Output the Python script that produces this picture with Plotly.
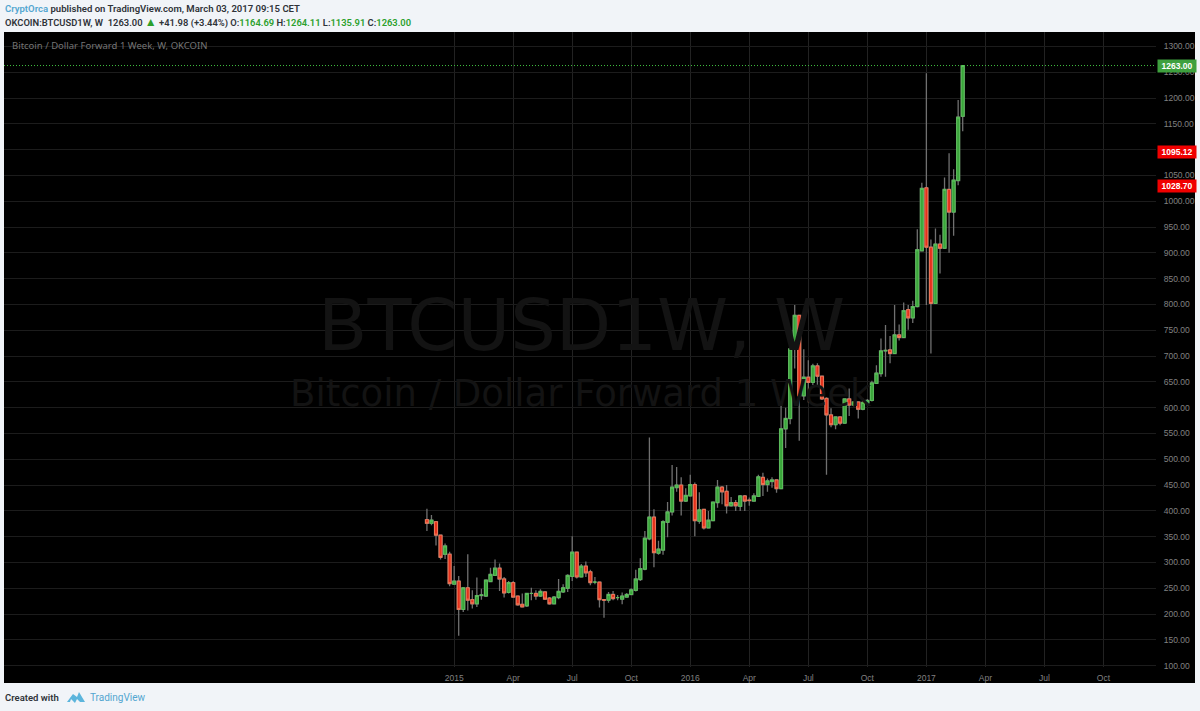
import pandas as pd
import plotly.graph_objects as go

W, H = 1200, 711

dates = pd.date_range("2014-11-24", periods=119, freq="W-MON")

opens = [383, 376, 379, 353, 316, 316, 258, 264, 209, 251,
         228, 220, 236, 235, 263, 275, 289, 268, 242, 261,
         235, 219, 216, 240, 240, 235, 243, 231, 220, 232,
         243, 250, 273, 320, 272, 293, 282, 262, 262, 228,
         227, 238, 232, 229, 233, 238, 246, 267, 287, 346,
         388, 318, 324, 378, 398, 445, 450, 419, 429, 451,
         380, 403, 367, 381, 416, 446, 438, 410, 416, 409,
         429, 421, 419, 428, 465, 451, 457, 460, 443, 559,
         579, 714, 779, 623, 659, 649, 681, 661, 618, 586,
         567, 582, 570, 617, 605, 611, 597, 609, 614, 647,
         666, 710, 712, 705, 741, 736, 790, 774, 796, 904,
         1026, 911, 802, 917, 909, 1023, 979, 1040, 1164.69]
highs = [404, 392, 380, 353, 337, 321, 293, 274, 251, 316,
         246, 271, 249, 266, 290, 306, 298, 272, 264, 264,
         236, 240, 241, 251, 246, 248, 244, 233, 235, 268,
         258, 277, 351, 321, 297, 302, 286, 272, 263, 229,
         243, 245, 237, 242, 241, 250, 286, 308, 361, 542,
         403, 342, 382, 417, 489, 485, 465, 444, 470, 455,
         436, 404, 400, 418, 460, 448, 450, 427, 421, 431,
         431, 426, 434, 470, 474, 463, 465, 461, 610, 600,
         730, 799, 780, 713, 692, 685, 686, 662, 620, 599,
         583, 583, 618, 637, 612, 612, 618, 617, 652, 682,
         734, 760, 739, 799, 761, 804, 799, 807, 946, 1036,
         1248, 926, 947, 935, 1046, 1093, 1062, 1196, 1264.11]
lows = [361, 372, 333, 306, 307, 254, 257, 158, 204, 207,
        211, 214, 228, 233, 262, 275, 245, 232, 240, 232,
        216, 213, 214, 227, 228, 233, 228, 218, 219, 229,
        241, 243, 264, 269, 271, 272, 256, 258, 213, 193,
        222, 227, 227, 219, 232, 237, 244, 264, 285, 343,
        291, 315, 315, 349, 391, 437, 391, 417, 428, 351,
        375, 364, 366, 380, 406, 413, 395, 408, 400, 400,
        400, 410, 418, 427, 429, 437, 445, 435, 442, 522,
        568, 676, 536, 615, 610, 644, 643, 615, 470, 562,
        558, 566, 569, 584, 603, 579, 595, 607, 612, 646,
        660, 660, 686, 704, 730, 735, 751, 764, 794, 903,
        799, 705, 801, 860, 908, 900, 933, 1031, 1135.91]
closes = [376, 382, 353, 310, 332, 259, 264, 209, 251, 227,
          220, 236, 237, 266, 277, 289, 268, 241, 261, 233,
          218, 214, 240, 240, 235, 244, 229, 220, 233, 244,
          251, 275, 320, 272, 293, 280, 261, 262, 228, 227,
          238, 230, 232, 235, 238, 247, 268, 288, 347, 388,
          319, 326, 379, 398, 446, 450, 419, 430, 451, 381,
          402, 367, 382, 417, 446, 437, 410, 416, 410, 429,
          419, 420, 429, 466, 451, 458, 460, 443, 559, 579,
          714, 779, 623, 659, 649, 681, 661, 617, 586, 567,
          582, 570, 617, 605, 611, 597, 610, 614, 648, 667,
          710, 711, 705, 741, 736, 788, 774, 796, 906, 1025,
          911, 802, 917, 909, 1023, 979, 1041, 1163, 1263]

price_ticks = list(range(100, 1301, 50))
date_ticks = ["2015-01-05", "2015-04-06", "2015-07-06", "2015-10-05", "2016-01-04", "2016-04-04",
              "2016-07-04", "2016-10-03", "2017-01-02", "2017-04-03", "2017-07-03", "2017-10-02"]
date_labels = ["2015", "Apr", "Jul", "Oct", "2016", "Apr", "Jul", "Oct", "2017", "Apr", "Jul", "Oct"]

last_price = 1263.00
level_labels = [1095.12, 1028.70]

GREEN, GREEN_EDGE = "#3aa53a", "#5cc05c"
RED, RED_EDGE = "#e5301c", "#ee7858"
WICK = "#707070"


def px(x):
    return x / W


def py(y):
    return 1 - y / H


fig = go.Figure()

# wicks first, then bodies on top so that the two can differ in colour
fig.add_trace(go.Candlestick(
    x=dates, open=opens, high=highs, low=lows, close=closes,
    increasing=dict(line=dict(color=WICK, width=1.3), fillcolor=WICK),
    decreasing=dict(line=dict(color=WICK, width=1.3), fillcolor=WICK),
    hoverinfo="skip",
))
fig.add_trace(go.Candlestick(
    x=dates, open=opens, close=closes,
    high=[max(o, c) for o, c in zip(opens, closes)],
    low=[min(o, c) for o, c in zip(opens, closes)],
    increasing=dict(line=dict(color=GREEN_EDGE, width=1), fillcolor=GREEN),
    decreasing=dict(line=dict(color=RED_EDGE, width=1), fillcolor=RED),
))

fig.update_layout(
    width=W, height=H, autosize=False, showlegend=False,
    margin=dict(l=0, r=0, t=0, b=0, pad=0, autoexpand=False), boxgap=0.35, boxgroupgap=0,
    paper_bgcolor="#f1f4f8", plot_bgcolor="rgba(0,0,0,0)",
    font=dict(family="Liberation Sans", size=9, color="#808080"),
    xaxis=dict(
        type="date", domain=[px(4), px(1156)], range=["2013-02-10", "2017-12-22"],
        tickmode="array", tickvals=date_ticks, ticktext=date_labels,
        gridcolor="#222222", gridwidth=1, zeroline=False, showline=False,
        ticks="outside", ticklen=3, tickcolor="rgba(0,0,0,0)",
        rangeslider=dict(visible=False), tickfont=dict(size=8.5, color="#808080"),
    ),
    yaxis=dict(
        side="right", domain=[py(667), py(32)], range=[97.5, 1328],
        tickmode="array", tickvals=price_ticks, tickformat=".2f",
        gridcolor="#1c1c1c", gridwidth=1, zeroline=False, showline=False,
        ticks="outside", ticklen=5, tickcolor="rgba(0,0,0,0)",
        tickfont=dict(size=8.5, color="#808080"),
    ),
)

# black chart panel behind plot and both axes
fig.add_shape(type="rect", xref="paper", yref="paper", layer="below", line_width=0, fillcolor="#000000",
              x0=px(4), x1=px(1195), y0=py(683), y1=py(32))

# last price line
fig.add_shape(type="line", xref="paper", yref="y", x0=px(4), x1=px(1156), y0=last_price, y1=last_price,
              line=dict(color="#3fc03f", width=1, dash="1px,2px"))

# price labels
for value, colour in [(last_price, "#3ea03e"), (level_labels[0], "#f00000"), (level_labels[1], "#f00000")]:
    fig.add_annotation(xref="paper", yref="y", x=px(1157), y=value, xanchor="left", yanchor="middle",
                       text=f"{value:.2f}", showarrow=False, bgcolor=colour, width=38, height=12, align="center",
                       borderpad=0, font=dict(family="Liberation Sans", size=8.5, color="#ffffff", weight="bold"))

# watermark
fig.add_annotation(xref="paper", yref="paper", x=px(581), y=py(325), text="BTCUSD1W, W", showarrow=False,
                   font=dict(family="DejaVu Sans", size=72, color="#131313"))
fig.add_annotation(xref="paper", yref="paper", x=px(581), y=py(393), text="Bitcoin / Dollar Forward 1 Week",
                   showarrow=False, font=dict(family="DejaVu Sans", size=37, color="#131313"))

HEAD = dict(family="Roboto", size=9.4, color="#2f3338", weight=600)
fig.add_annotation(xref="paper", yref="paper", x=px(3), y=py(8.5), xanchor="left", yanchor="middle", showarrow=False,
                   text='<span style="color:#53a6d0">CryptOrca</span> published on TradingView.com, March 03, 2017 09:15 CET',
                   font=dict(HEAD, size=9.55))
green = '<span style="color:#2ca02c">%s</span>'
fig.add_annotation(xref="paper", yref="paper", x=px(3), y=py(22), xanchor="left", yanchor="middle", showarrow=False,
                   text="OKCOIN:BTCUSD1W, W  1263.00 " + '<span style="color:#2ca02c;font-size:12px">▲</span>'
                        + " +41.98 (+3.44%) O:" + green % "1164.69"
                        + " H:" + green % "1264.11" + " L:" + green % "1135.91" + " C:" + green % "1263.00",
                   font=HEAD)
fig.add_annotation(xref="paper", yref="paper", x=px(10), y=py(45.5), xanchor="left", yanchor="middle", showarrow=False,
                   text="Bitcoin / Dollar Forward 1 Week, W, OKCOIN",
                   font=dict(family="Noto Sans", size=9.5, color="#747474"))

# footer
fig.add_annotation(xref="paper", yref="paper", x=px(3), y=py(697), xanchor="left", yanchor="middle", showarrow=False,
                   text="Created with", font=dict(family="Roboto", size=9.5, color="#2f3338", weight=600))
fig.add_annotation(xref="paper", yref="paper", x=px(87.5), y=py(697.5), xanchor="left", yanchor="middle", showarrow=False,
                   text="TradingView", font=dict(family="Roboto", size=10, color="#53a6d0"))
logo = [(67, 702), (73, 694), (77, 697), (79, 692), (85, 702), (80, 702), (77, 699), (75, 703), (71, 699), (70, 702)]
fig.add_shape(type="path", xref="paper", yref="paper", line_width=0, fillcolor="#5cb5dc",
              path="M " + " L ".join(f"{px(a):.5f},{py(b):.5f}" for a, b in logo) + " Z")

# the page's default body margin would push the figure off the window
fig.write_html("out.html", config=dict(displayModeBar=False), post_script="document.body.style.margin='0';")
